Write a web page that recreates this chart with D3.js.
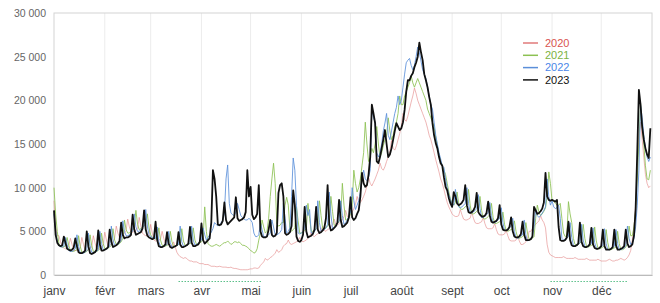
<!DOCTYPE html>
<html>
<head>
<meta charset="utf-8">
<script src="https://cdn.jsdelivr.net/npm/d3@7"></script>
<style>
  body { margin: 0; background: #fff; }
  text { font-family: "Liberation Sans", Arial, sans-serif; }
</style>
</head>
<body>
<div id="container"></div>
<script>
// month starts (day of year) and their labels
let monthStarts = [0, 31, 59, 90, 120, 151, 181, 212, 243, 273, 304, 334];
let monthLabels = ["janv", "févr", "mars", "avr", "mai", "juin", "juil", "août", "sept", "oct", "nov", "déc"];
let yTicks = [0, 5000, 10000, 15000, 20000, 25000, 30000];
let years = ["2020", "2021", "2022", "2023"];
// 2020 lockdown periods (day of year)
let lockdowns = [[76, 127], [303, 350]];

// daily values, one week per row
let values2020 = [
  8500, 5500, 4500, 4500, 3800, 3200, 3100,
  3000, 3100, 3300, 4200, 3500, 2800, 2800,
  2800, 2900, 3100, 4300, 3500, 2800, 2800,
  2900, 3000, 3200, 4500, 3700, 3000, 3000,
  3100, 3200, 3500, 4900, 4000, 3300, 3400,
  3600, 3800, 4200, 5600, 4800, 4300, 4400,
  4600, 4800, 5100, 6400, 5500, 4900, 4900,
  5000, 5100, 5300, 6600, 5600, 4800, 4600,
  4500, 4500, 4600, 5800, 4800, 4000, 3900,
  3900, 4000, 4100, 5000, 4200, 3600, 3500,
  3500, 3400, 3200, 3800, 3200, 2600, 2300,
  2100, 2000, 1900, 2000, 1900, 1700, 1600,
  1600, 1500, 1500, 1500, 1400, 1300, 1300,
  1300, 1200, 1200, 1200, 1100, 1000, 1000,
  1000, 950, 950, 1000, 950, 900, 900,
  900, 850, 850, 900, 800, 750, 750,
  700, 650, 600, 600, 600, 600, 600,
  650, 700, 700, 800, 800, 750, 800,
  1100, 1300, 1500, 1900, 1700, 1800, 2000,
  2100, 2300, 2500, 2900, 2600, 2700, 2900,
  3300, 3500, 3600, 4000, 3600, 3500, 3600,
  3700, 3800, 3900, 4300, 3900, 3800, 3900,
  4000, 4200, 4400, 4900, 4500, 4400, 4600,
  4700, 4900, 5100, 5600, 5100, 5000, 5200,
  5300, 5500, 5800, 6400, 5800, 5700, 5900,
  6100, 6300, 6700, 7400, 6700, 6600, 6900,
  7200, 7600, 8100, 9000, 8400, 8300, 8600,
  9000, 9500, 10200, 11200, 10500, 10200, 10600,
  11000, 11500, 12000, 12800, 12200, 12000, 12400,
  13000, 13500, 14200, 15400, 14500, 14300, 14800,
  15500, 16200, 17000, 18500, 17800, 17600, 18200,
  19000, 19800, 20500, 21400, 20800, 20000, 19500,
  19000, 18500, 18000, 17500, 16800, 16000, 15500,
  14800, 14000, 13200, 12500, 11800, 11000, 10500,
  9800, 9000, 8300, 7800, 7400, 7000, 6800,
  6700, 6700, 6800, 7500, 6900, 6400, 6300,
  6300, 6400, 6500, 7200, 6500, 6000, 5900,
  5900, 6000, 6100, 6600, 5900, 5400, 5300,
  5300, 5300, 5400, 5900, 5200, 4700, 4600,
  4600, 4600, 4700, 5100, 4500, 4000, 3900,
  3900, 3900, 4000, 4500, 3900, 3500, 3500,
  3600, 3800, 4200, 5000, 5000, 5300, 5600,
  5800, 6000, 6200, 6800, 6300, 6000, 5400,
  3500, 2600, 2300, 2200, 2100, 2000, 2000,
  2000, 2000, 2000, 2100, 2000, 1900, 1900,
  1900, 1900, 1900, 2000, 1900, 1800, 1800,
  1800, 1800, 1800, 1900, 1800, 1700, 1700,
  1700, 1700, 1700, 1800, 1700, 1600, 1600,
  1600, 1600, 1700, 1800, 1700, 1600, 1600,
  1700, 1700, 1800, 1900, 1800, 1700, 1800,
  2000, 2300, 2800, 4000, 5500, 8000, 12000,
  16000, 17500, 15500, 13500, 11500, 10500, 10000,
  10200
];

let values2021 = [
  10000, 7000, 5000, 3600, 3300, 3200, 3200,
  3400, 4300, 3400, 2800, 2700, 2700, 2800,
  2900, 4500, 3300, 2600, 2600, 2600, 2700,
  2900, 4600, 3400, 2700, 2700, 2700, 2800,
  3000, 4800, 3600, 3000, 3000, 3100, 3200,
  3400, 5300, 4000, 3500, 3500, 3600, 3800,
  4200, 6300, 5200, 4800, 4800, 5000, 5200,
  5600, 7400, 5800, 5200, 5300, 5500, 5700,
  5800, 7000, 5400, 4600, 4300, 4200, 4100,
  4200, 5400, 4000, 3400, 3300, 3300, 3400,
  3500, 5000, 3800, 3300, 3300, 3400, 3500,
  3600, 5300, 3900, 3400, 3400, 3500, 3600,
  3700, 5400, 4000, 3500, 3600, 3700, 3800,
  4200, 7800, 5000, 3600, 3400, 3300, 3300,
  3400, 3500, 3400, 3300, 3400, 3600, 3700,
  3700, 3900, 3700, 3500, 3600, 3800, 3800,
  3700, 3800, 3600, 3400, 3400, 3300, 3200,
  3000, 2800, 2700, 2500, 2600, 3000, 4000,
  4800, 6300, 5500, 4800, 5000, 6500, 9000,
  11000, 12800, 10500, 5900, 5600, 5700, 6000,
  6000, 8000, 8900, 8000, 5200, 5000, 5200,
  5400, 7800, 6200, 4800, 4800, 4900, 5100,
  5300, 8200, 6500, 5000, 5000, 5100, 5300,
  5500, 8500, 6800, 5300, 5300, 5400, 5600,
  5900, 9000, 7300, 5700, 5700, 5900, 6100,
  6500, 10500, 8000, 6300, 6300, 6600, 7000,
  8000, 12000, 10500, 9500, 10000, 11000, 12500,
  14000, 17500, 15000, 13000, 13500, 14500, 14000,
  15000, 17000, 15000, 13500, 14000, 14800, 15500,
  16000, 18000, 16500, 15500, 16000, 17000, 17500,
  18500, 20500, 19500, 19500, 20500, 21000, 21500,
  22000, 22800, 22000, 21500, 22000, 22500, 22000,
  21500, 21000, 20500, 20000, 19000, 18500, 18000,
  17500, 17000, 15800, 14800, 13800, 13000, 12500,
  12000, 11500, 10500, 9500, 8700, 8200, 8000,
  8300, 9500, 8200, 7600, 7500, 7600, 7800,
  8000, 9800, 8000, 7000, 7000, 7100, 7300,
  7500, 9000, 7400, 6500, 6400, 6500, 6700,
  6900, 8200, 6600, 5900, 5900, 6000, 6100,
  6300, 7200, 5800, 5100, 5000, 5100, 5200,
  5300, 6200, 5000, 4300, 4200, 4300, 4400,
  4600, 6000, 4800, 4100, 4100, 4200, 4400,
  6500, 8000, 7200, 6800, 7000, 7300, 7700,
  9000, 11800, 10500, 8500, 8500, 8200, 8000,
  8000, 8200, 6500, 4800, 4400, 4500, 8400,
  7000, 6000, 4200, 3500, 3400, 3500, 3700,
  3800, 5800, 4200, 3300, 3200, 3300, 3400,
  3500, 5500, 3900, 3100, 3000, 3100, 3200,
  3300, 5200, 3700, 2900, 2900, 3000, 3100,
  3200, 5000, 3600, 2900, 2900, 3000, 3200,
  3600, 5600, 4500, 4500, 5500, 7500, 11000,
  15000, 19700, 17000, 15000, 12500, 11000, 10900,
  12000
];

let values2022 = [
  7000, 5000, 3800, 3400, 3200, 3200, 3300,
  4300, 3500, 2800, 2700, 2700, 2800, 3000,
  4600, 3300, 2500, 2500, 2500, 2600, 2800,
  4800, 3400, 2600, 2600, 2600, 2700, 2900,
  5000, 3600, 2900, 2900, 3000, 3100, 3300,
  5600, 4000, 3400, 3400, 3500, 3700, 4000,
  6200, 5000, 4500, 4500, 4600, 4800, 5000,
  7000, 5500, 5000, 5000, 5200, 5400, 5600,
  7500, 5600, 4600, 4400, 4300, 4200, 4200,
  5500, 3800, 3300, 3200, 3300, 3400, 3500,
  5000, 3700, 3200, 3200, 3300, 3400, 3500,
  5600, 3800, 3300, 3300, 3400, 3500, 3700,
  5600, 4000, 3400, 3500, 3600, 3800, 4000,
  5400, 4600, 4000, 4300, 4600, 4900, 5300,
  6000, 5800, 5600, 5800, 6000, 6300, 7000,
  11000, 12600, 8200, 7100, 6900, 6800, 7200,
  8200, 7500, 6800, 6600, 6400, 6300, 6300,
  6500, 6300, 6000, 4800, 4400, 4400, 4600,
  6000, 5200, 4400, 4400, 4500, 4600, 4800,
  6300, 5500, 4600, 4600, 4700, 4900, 5200,
  8200, 6500, 4800, 5000, 5400, 9000, 13400,
  12000, 8000, 4800, 4700, 4800, 5000, 5300,
  8000, 6800, 7500, 4800, 4800, 5000, 5300,
  8500, 6000, 5000, 5100, 5200, 5400, 5800,
  9500, 7000, 5300, 5400, 5600, 5900, 6200,
  8500, 6800, 5800, 6000, 6300, 6700, 7200,
  10000, 8500, 7500, 8000, 8500, 9500, 11000,
  12000, 11000, 10800, 11200, 12000, 19000, 18000,
  17500, 14000, 13500, 14000, 15000, 16500, 17400,
  18500, 16000, 15500, 16500, 17500, 18500, 19200,
  20500, 19500, 20000, 21500, 23000, 24300, 24600,
  24800, 24000, 23500, 24000, 25000, 26100, 25500,
  24500, 23500, 23000, 22500, 21500, 20500, 19500,
  19000, 17500, 16000, 15000, 14000, 13300, 12500,
  12300, 11000, 10000, 9200, 8600, 8200, 8000,
  9800, 8600, 7800, 7700, 7800, 8000, 8200,
  10000, 8200, 7200, 7100, 7200, 7400, 7600,
  9200, 7600, 6600, 6600, 6700, 6900, 7100,
  8300, 6800, 6000, 6000, 6100, 6300, 6500,
  7700, 6000, 5100, 5100, 5200, 5400, 5600,
  6500, 5000, 4300, 4200, 4300, 4500, 4600,
  6300, 4600, 3900, 4000, 4100, 4400, 5500,
  7500, 6800, 6600, 6800, 7100, 7400, 7800,
  11000, 9000, 8000, 8500, 7800, 7600, 7700,
  8000, 6500, 4200, 4000, 4000, 4200, 4400,
  6000, 4300, 3400, 3300, 3400, 3500, 3700,
  5800, 4000, 3300, 3200, 3300, 3400, 3600,
  5400, 3700, 3100, 3000, 3100, 3200, 3400,
  5300, 3600, 2900, 2900, 3000, 3100, 3300,
  5200, 3600, 2900, 2900, 3000, 3100, 3400,
  5600, 4200, 3500, 3700, 4200, 5500, 8000,
  12000, 19500, 18000, 16000, 14500, 13500, 13000,
  13500
];

let values2023 = [
  7400, 4600, 3700, 3400, 3300, 3400, 4400,
  3700, 3000, 2900, 2800, 2900, 3100, 4200,
  3300, 2600, 2500, 2500, 2600, 2800, 5000,
  3300, 2500, 2400, 2500, 2600, 2900, 5100,
  3500, 2800, 2800, 2900, 3000, 3200, 5200,
  3800, 3200, 3300, 3400, 3600, 3900, 6000,
  4600, 4200, 4300, 4300, 4400, 4600, 6900,
  5200, 4600, 4700, 4800, 4900, 5300, 7400,
  5200, 4500, 4300, 4200, 4100, 4200, 6100,
  4000, 3300, 3200, 3200, 3300, 3500, 4900,
  3600, 3200, 3100, 3200, 3300, 3400, 4900,
  3500, 3200, 3200, 3300, 3400, 3600, 5500,
  3700, 3300, 3300, 3400, 3500, 3800, 5900,
  4000, 3600, 3800, 4000, 4200, 6000, 12000,
  11000, 9000, 5800, 5700, 5800, 6200, 8300,
  6300, 5800, 6000, 6200, 6400, 6600, 8900,
  6500, 6200, 6300, 6400, 6600, 7200, 12000,
  9000, 10100, 6900, 6400, 6600, 7000, 10300,
  5000, 4400, 4300, 4300, 4400, 5200, 6300,
  4600, 4400, 4500, 4800, 9400, 10300, 10500,
  9000, 4800, 4600, 4700, 4900, 5600, 9700,
  8000, 4400, 3900, 3800, 4000, 4600, 7800,
  5000, 4300, 4400, 4500, 4700, 5200, 7800,
  5200, 4800, 4900, 5100, 5400, 6500, 10300,
  5800, 5100, 5200, 5400, 5600, 6000, 8600,
  6300, 5500, 5600, 5800, 6000, 6600, 8900,
  6600, 6300, 6500, 7000, 7400, 9000, 11700,
  10500, 10100, 10300, 11500, 13500, 19500, 18500,
  17400, 13000, 12800, 13500, 14500, 15500, 16600,
  15000, 13500, 13800, 14500, 15500, 16500, 17400,
  17000, 16600, 16800, 17500, 18900, 21000, 22300,
  22300, 22800, 23100, 23800, 24300, 25000, 26600,
  25500, 24600, 23000, 22300, 21500, 20400, 19500,
  17400, 16000, 15100, 14500, 13500, 12800, 12500,
  11200, 10100, 9700, 8800, 8200, 7800, 9500,
  9000, 8200, 8000, 8100, 8300, 8600, 10300,
  8000, 7200, 7100, 7200, 7400, 7800, 9400,
  7200, 6900, 6700, 6700, 6800, 7100, 8400,
  6800, 6100, 6000, 6100, 6200, 6500, 8000,
  5800, 5200, 5100, 5100, 5200, 5500, 6600,
  5000, 4400, 4300, 4300, 4400, 4700, 6100,
  4600, 4000, 4000, 4000, 4100, 4400, 7800,
  7400, 7000, 7100, 7300, 7600, 8300, 11700,
  9000, 8600, 8500, 8600, 8500, 8400, 8600,
  5500, 4000, 3900, 3900, 4000, 4300, 6100,
  4000, 3400, 3300, 3300, 3400, 3600, 6000,
  3800, 3300, 3200, 3200, 3300, 3500, 5400,
  3500, 3100, 3000, 3000, 3100, 3300, 5200,
  3300, 2900, 2900, 2900, 3000, 3200, 5200,
  3400, 2900, 2900, 3000, 3100, 3300, 5200,
  3600, 3200, 3300, 3500, 4500, 7500, 14000,
  21200, 19500, 17000, 15500, 14500, 13800, 13400,
  16800
];

let series = [values2020, values2021, values2022, values2023];
let colors = ["#e07a7a", "#8cc152", "#5b8fd9", "#111111"];
let textColors = ["#d9534f", "#7cb342", "#4a86e8", "#111111"];
let widths = [1, 1, 1, 1.8];
let opacities = [0.55, 0.85, 0.85, 1];

let width = 660, height = 303;
let plotLeft = 54, plotRight = 652, plotTop = 13, plotBottom = 275;

let svg = d3.select("#container")
  .append("svg")
    .attr("width", width)
    .attr("height", height)
;

let x = d3.scaleLinear().domain([0, 365]).range([plotLeft, plotRight]);
let y = d3.scaleLinear().domain([0, 30000]).range([plotBottom, plotTop]);

// month gridlines
svg.selectAll(".grid")
  .data(monthStarts.slice(1))
  .enter()
  .append("line")
    .attr("x1", d => x(d))
    .attr("x2", d => x(d))
    .attr("y1", plotTop)
    .attr("y2", plotBottom)
    .attr("stroke", "#ececec")
    .attr("stroke-width", 1)
;

// frame
svg.append("rect")
  .attr("x", plotLeft)
  .attr("y", plotTop)
  .attr("width", plotRight - plotLeft)
  .attr("height", plotBottom - plotTop)
  .attr("fill", "none")
  .attr("stroke", "#d4d4d4")
;

// y axis
let fr = d3.formatLocale({ decimal: ",", thousands: " ", grouping: [3], currency: ["", " €"] });
let yAxis = d3.axisLeft(y)
  .tickValues(yTicks)
  .tickSize(0)
  .tickPadding(8)
  .tickFormat(fr.format(","));
let gy = svg.append("g")
  .attr("transform", "translate(" + plotLeft + ",0)")
  .call(yAxis);
gy.select(".domain").remove();
gy.selectAll("text")
  .attr("fill", "#666")
  .style("font-size", "10.5px");

// x axis (labels at month starts)
let xAxis = d3.axisBottom(x)
  .tickValues(monthStarts)
  .tickSize(0)
  .tickPadding(11)
  .tickFormat((d, i) => monthLabels[i]);
let gx = svg.append("g")
  .attr("transform", "translate(0," + plotBottom + ")")
  .call(xAxis);
gx.select(".domain").attr("stroke", "#bbb");
gx.selectAll("text")
  .attr("fill", "#444")
  .style("font-size", "12px");

// lockdown markers
svg.selectAll(".lockdown")
  .data(lockdowns)
  .enter()
  .append("line")
    .attr("x1", d => x(d[0]))
    .attr("x2", d => x(d[1]))
    .attr("y1", 281.5)
    .attr("y2", 281.5)
    .attr("stroke", "#5cc08a")
    .attr("stroke-width", 1)
    .attr("stroke-dasharray", "1.5,1.5")
;

// series lines
let line = d3.line()
  .x((d, i) => x(i))
  .y(d => y(d));

svg.selectAll(".series")
  .data(series)
  .enter()
  .append("path")
    .attr("class", "series")
    .attr("d", line)
    .attr("fill", "none")
    .attr("stroke", (d, i) => colors[i])
    .attr("stroke-width", (d, i) => widths[i])
    .attr("stroke-opacity", (d, i) => opacities[i])
    .attr("stroke-linejoin", "round")
;

// legend
let legend = svg.selectAll(".legend")
  .data(years)
  .enter()
  .append("g")
    .attr("class", "legend")
    .attr("transform", (d, i) => "translate(523," + (43 + i * 12.3) + ")")
;
legend.append("line")
  .attr("x1", 0)
  .attr("x2", 15)
  .attr("stroke", (d, i) => colors[i])
  .attr("stroke-opacity", 1)
  .attr("stroke-width", 1.5);
legend.append("text")
  .attr("x", 22)
  .attr("dy", "0.35em")
  .attr("fill", (d, i) => textColors[i])
  .style("font-size", "11px")
  .text(d => d);
</script>
</body>
</html>
